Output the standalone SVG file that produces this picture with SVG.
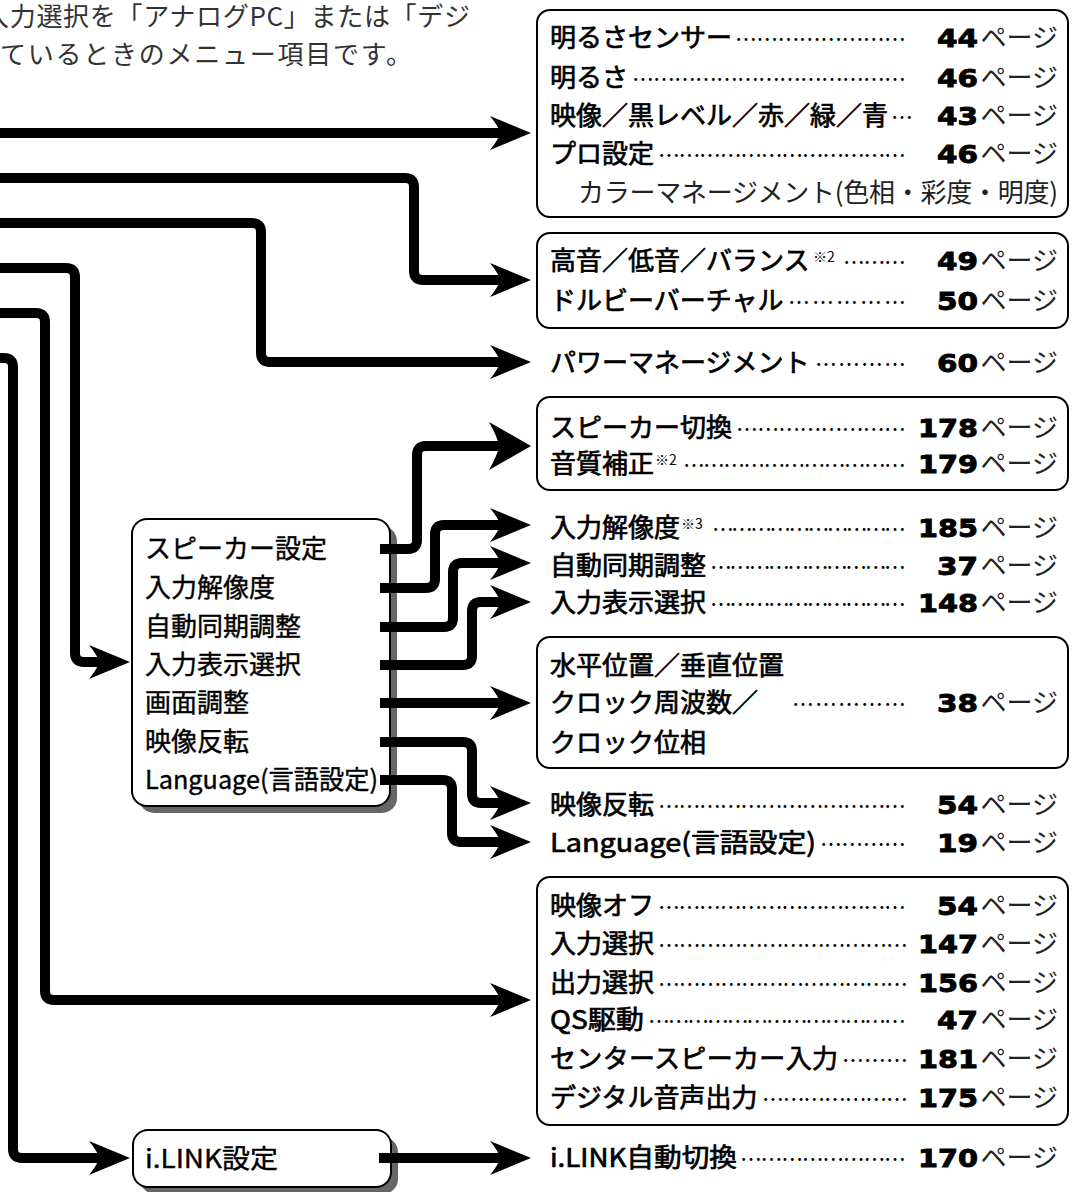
<svg xmlns="http://www.w3.org/2000/svg" width="1072" height="1192" viewBox="0 0 1072 1192">
<defs>
<style>
.top{font-family:"Noto Sans CJK JP","Noto Sans",sans-serif;font-size:26px;fill:#333}
.lbl{font-family:"Noto Sans CJK JP","Noto Sans",sans-serif;font-size:26px;fill:#000;stroke:#000;stroke-width:0.7}
.mlbl{font-family:"Noto Sans CJK JP","Noto Sans",sans-serif;font-size:26px;fill:#000;stroke:#000;stroke-width:0.4}
.sub{font-family:"Noto Sans CJK JP","Noto Sans",sans-serif;font-size:26px;fill:#222}
.sup{font-family:"Noto Sans CJK JP","Noto Sans",sans-serif;font-size:14px;fill:#000}
.dots{font-family:"Noto Sans CJK JP","Noto Sans",sans-serif;font-size:22px;fill:#000}
.num{font-family:"DejaVu Sans",sans-serif;font-weight:bold;font-size:25px;fill:#000;stroke:#000;stroke-width:0.9}
.pg{font-family:"Noto Sans CJK JP","Noto Sans",sans-serif;font-size:26px;fill:#222;text-anchor:end}
.box{fill:#fff;stroke:#000;stroke-width:2}
.shadow{fill:#666}
.conn{fill:none;stroke:#000;stroke-width:10;marker-end:url(#ah)}
.connb{fill:none;stroke:#000;stroke-width:10;marker-end:url(#ahb)}
</style>
<marker id="ah" markerUnits="userSpaceOnUse" markerWidth="60" markerHeight="60" viewBox="-20 -30 60 60" refX="0" refY="0" orient="auto" overflow="visible">
<path d="M31,0 L-10,-17 Q-1,-6 0,0 Q-1,6 -10,17 Z" fill="#000"/>
</marker>
<marker id="ahb" markerUnits="userSpaceOnUse" markerWidth="60" markerHeight="60" viewBox="-20 -30 60 60" refX="0" refY="0" orient="auto" overflow="visible">
<path d="M32,0 L-10,-24 Q-1,-8 0,0 Q-1,8 -10,24 Z" fill="#000"/>
</marker>
</defs>
<rect width="1072" height="1192" fill="#fff"/>

<g id="caption">
<text class="top" x="-17" y="26" textLength="487" lengthAdjust="spacing">入力選択を「アナログPC」または「デジ</text>
<text class="top" x="0" y="64" textLength="412" lengthAdjust="spacing">ているときのメニュー項目です。</text>
</g>

<g id="box-picture">
<rect class="box" x="537" y="10" width="531" height="207" rx="13"/>
<text class="lbl" x="550" y="47">明るさセンサー</text>
<text class="dots" x="735" y="47" textLength="171" lengthAdjust="spacing">……………………</text>
<text class="num" x="937" y="47" textLength="41" lengthAdjust="spacingAndGlyphs">44</text>
<text class="pg" x="1058" y="47">ページ</text>
<text class="lbl" x="550" y="87">明るさ</text>
<text class="dots" x="632" y="87" textLength="274" lengthAdjust="spacing">…………………………………</text>
<text class="num" x="937" y="87" textLength="41" lengthAdjust="spacingAndGlyphs">46</text>
<text class="pg" x="1058" y="87">ページ</text>
<text class="lbl" x="550" y="125">映像／黒レベル／赤／緑／青</text>
<text class="dots" x="891" y="125">…</text>
<text class="num" x="937" y="125" textLength="41" lengthAdjust="spacingAndGlyphs">43</text>
<text class="pg" x="1058" y="125">ページ</text>
<text class="lbl" x="550" y="163">プロ設定</text>
<text class="dots" x="658" y="163" textLength="248" lengthAdjust="spacing">………………………………</text>
<text class="num" x="937" y="163" textLength="41" lengthAdjust="spacingAndGlyphs">46</text>
<text class="pg" x="1058" y="163">ページ</text>
<text class="sub" x="578" y="202" textLength="480" lengthAdjust="spacing">カラーマネージメント(色相・彩度・明度)</text>
</g>

<g id="box-audio">
<rect class="box" x="537" y="233" width="531" height="95" rx="13"/>
<text class="lbl" x="550" y="270">高音／低音／バランス</text>
<text class="sup" x="813" y="262">※2</text>
<text class="dots" x="843" y="270" textLength="63" lengthAdjust="spacing">………</text>
<text class="num" x="937" y="270" textLength="41" lengthAdjust="spacingAndGlyphs">49</text>
<text class="pg" x="1058" y="270">ページ</text>
<text class="lbl" x="550" y="310">ドルビーバーチャル</text>
<text class="dots" x="788" y="310" textLength="118" lengthAdjust="spacing">……………</text>
<text class="num" x="937" y="310" textLength="41" lengthAdjust="spacingAndGlyphs">50</text>
<text class="pg" x="1058" y="310">ページ</text>
</g>

<g id="item-power">
<text class="lbl" x="550" y="372">パワーマネージメント</text>
<text class="dots" x="815" y="372" textLength="91" lengthAdjust="spacing">…………</text>
<text class="num" x="937" y="372" textLength="41" lengthAdjust="spacingAndGlyphs">60</text>
<text class="pg" x="1058" y="372">ページ</text>
</g>

<g id="box-speaker">
<rect class="box" x="537" y="397" width="531" height="93" rx="13"/>
<text class="lbl" x="550" y="437">スピーカー切換</text>
<text class="dots" x="736" y="437" textLength="170" lengthAdjust="spacing">……………………</text>
<text class="num" x="918" y="437" textLength="60" lengthAdjust="spacingAndGlyphs">178</text>
<text class="pg" x="1058" y="437">ページ</text>
<text class="lbl" x="550" y="473">音質補正</text>
<text class="sup" x="655" y="465">※2</text>
<text class="dots" x="683" y="473" textLength="223" lengthAdjust="spacing">……………………………</text>
<text class="num" x="918" y="473" textLength="60" lengthAdjust="spacingAndGlyphs">179</text>
<text class="pg" x="1058" y="473">ページ</text>
</g>

<g id="item-resolution">
<text class="lbl" x="550" y="537">入力解像度</text>
<text class="sup" x="681" y="529">※3</text>
<text class="dots" x="712" y="537" textLength="194" lengthAdjust="spacing">…………………………</text>
<text class="num" x="918" y="537" textLength="60" lengthAdjust="spacingAndGlyphs">185</text>
<text class="pg" x="1058" y="537">ページ</text>
</g>

<g id="item-autosync">
<text class="lbl" x="550" y="575">自動同期調整</text>
<text class="dots" x="710" y="575" textLength="196" lengthAdjust="spacing">…………………………</text>
<text class="num" x="937" y="575" textLength="41" lengthAdjust="spacingAndGlyphs">37</text>
<text class="pg" x="1058" y="575">ページ</text>
</g>

<g id="item-inputdisp">
<text class="lbl" x="550" y="612">入力表示選択</text>
<text class="dots" x="710" y="612" textLength="196" lengthAdjust="spacing">…………………………</text>
<text class="num" x="918" y="612" textLength="60" lengthAdjust="spacingAndGlyphs">148</text>
<text class="pg" x="1058" y="612">ページ</text>
</g>

<g id="box-screen">
<rect class="box" x="537" y="637" width="531" height="131" rx="13"/>
<text class="lbl" x="550" y="675">水平位置／垂直位置</text>
<text class="lbl" x="550" y="712">クロック周波数／</text>
<text class="dots" x="792" y="712" textLength="114" lengthAdjust="spacing">……………</text>
<text class="num" x="937" y="712" textLength="41" lengthAdjust="spacingAndGlyphs">38</text>
<text class="pg" x="1058" y="712">ページ</text>
<text class="lbl" x="550" y="752">クロック位相</text>
</g>

<g id="item-flip">
<text class="lbl" x="550" y="814">映像反転</text>
<text class="dots" x="658" y="814" textLength="248" lengthAdjust="spacing">………………………………</text>
<text class="num" x="937" y="814" textLength="41" lengthAdjust="spacingAndGlyphs">54</text>
<text class="pg" x="1058" y="814">ページ</text>
</g>

<g id="item-language">
<text class="lbl" x="550" y="852" textLength="266" lengthAdjust="spacingAndGlyphs">Language(言語設定)</text>
<text class="dots" x="820" y="852" textLength="86" lengthAdjust="spacing">…………</text>
<text class="num" x="937" y="852" textLength="41" lengthAdjust="spacingAndGlyphs">19</text>
<text class="pg" x="1058" y="852">ページ</text>
</g>

<g id="box-misc">
<rect class="box" x="537" y="877" width="531" height="248" rx="13"/>
<text class="lbl" x="550" y="915">映像オフ</text>
<text class="dots" x="658" y="915" textLength="248" lengthAdjust="spacing">………………………………</text>
<text class="num" x="937" y="915" textLength="41" lengthAdjust="spacingAndGlyphs">54</text>
<text class="pg" x="1058" y="915">ページ</text>
<text class="lbl" x="550" y="953">入力選択</text>
<text class="dots" x="658" y="953" textLength="250" lengthAdjust="spacing">………………………………</text>
<text class="num" x="918" y="953" textLength="60" lengthAdjust="spacingAndGlyphs">147</text>
<text class="pg" x="1058" y="953">ページ</text>
<text class="lbl" x="550" y="992">出力選択</text>
<text class="dots" x="658" y="992" textLength="250" lengthAdjust="spacing">………………………………</text>
<text class="num" x="918" y="992" textLength="60" lengthAdjust="spacingAndGlyphs">156</text>
<text class="pg" x="1058" y="992">ページ</text>
<text class="lbl" x="550" y="1029" textLength="94" lengthAdjust="spacingAndGlyphs">QS駆動</text>
<text class="dots" x="648" y="1029" textLength="258" lengthAdjust="spacing">…………………………………</text>
<text class="num" x="937" y="1029" textLength="41" lengthAdjust="spacingAndGlyphs">47</text>
<text class="pg" x="1058" y="1029">ページ</text>
<text class="lbl" x="550" y="1068" textLength="288" lengthAdjust="spacing">センタースピーカー入力</text>
<text class="dots" x="842" y="1068" textLength="66" lengthAdjust="spacing">………</text>
<text class="num" x="918" y="1068" textLength="60" lengthAdjust="spacingAndGlyphs">181</text>
<text class="pg" x="1058" y="1068">ページ</text>
<text class="lbl" x="550" y="1107">デジタル音声出力</text>
<text class="dots" x="762" y="1107" textLength="146" lengthAdjust="spacing">…………………</text>
<text class="num" x="918" y="1107" textLength="60" lengthAdjust="spacingAndGlyphs">175</text>
<text class="pg" x="1058" y="1107">ページ</text>
</g>

<g id="item-ilink-auto">
<text class="lbl" x="550" y="1167" textLength="187" lengthAdjust="spacingAndGlyphs">i.LINK自動切換</text>
<text class="dots" x="740" y="1167" textLength="166" lengthAdjust="spacing">……………………</text>
<text class="num" x="918" y="1167" textLength="60" lengthAdjust="spacingAndGlyphs">170</text>
<text class="pg" x="1058" y="1167">ページ</text>
</g>

<g id="box-setup">
<rect class="shadow" x="139" y="526" width="258" height="287" rx="15"/>
<rect class="box" x="132" y="519" width="258" height="287" rx="15"/>
<text class="mlbl" x="145" y="558">スピーカー設定</text>
<text class="mlbl" x="145" y="597">入力解像度</text>
<text class="mlbl" x="145" y="636">自動同期調整</text>
<text class="mlbl" x="145" y="674">入力表示選択</text>
<text class="mlbl" x="145" y="712">画面調整</text>
<text class="mlbl" x="145" y="751">映像反転</text>
<text class="mlbl" x="145" y="789" textLength="233" lengthAdjust="spacingAndGlyphs">Language(言語設定)</text>
</g>

<g id="box-ilink">
<rect class="shadow" x="140" y="1137" width="258" height="57" rx="15"/>
<rect class="box" x="133" y="1130" width="258" height="57" rx="15"/>
<text class="mlbl" x="145" y="1168" textLength="133" lengthAdjust="spacingAndGlyphs">i.LINK設定</text>
</g>

<g id="connectors">
<path class="conn" d="M-10,133 H500"/>
<path class="conn" d="M-10,178 H405 Q414,178 414,187 V271 Q414,280 423,280 H500"/>
<path class="conn" d="M-10,223 H252 Q261,223 261,232 V353 Q261,362 270,362 H500"/>
<path class="conn" d="M-10,268 H66 Q75,268 75,277 V653 Q75,662 84,662 H99"/>
<path class="conn" d="M-10,313 H36 Q45,313 45,322 V991 Q45,1000 54,1000 H500"/>
<path class="conn" d="M-10,358 H4 Q13,358 13,367 V1149 Q13,1158 22,1158 H99"/>
<path class="connb" d="M380,549 H408 Q417,549 417,540 V455 Q417,446 426,446 H499"/>
<path class="conn" d="M380,588 H426 Q435,588 435,579 V534 Q435,525 444,525 H500"/>
<path class="conn" d="M380,627 H444 Q453,627 453,618 V572 Q453,563 462,563 H500"/>
<path class="conn" d="M380,665 H463 Q472,665 472,656 V611 Q472,602 481,602 H500"/>
<path class="conn" d="M380,703 H500"/>
<path class="conn" d="M380,742 H463 Q472,742 472,751 V794 Q472,803 481,803 H500"/>
<path class="conn" d="M380,780 H443 Q452,780 452,789 V833 Q452,842 461,842 H500"/>
<path class="conn" d="M379,1158 H500"/>
</g>
</svg>
